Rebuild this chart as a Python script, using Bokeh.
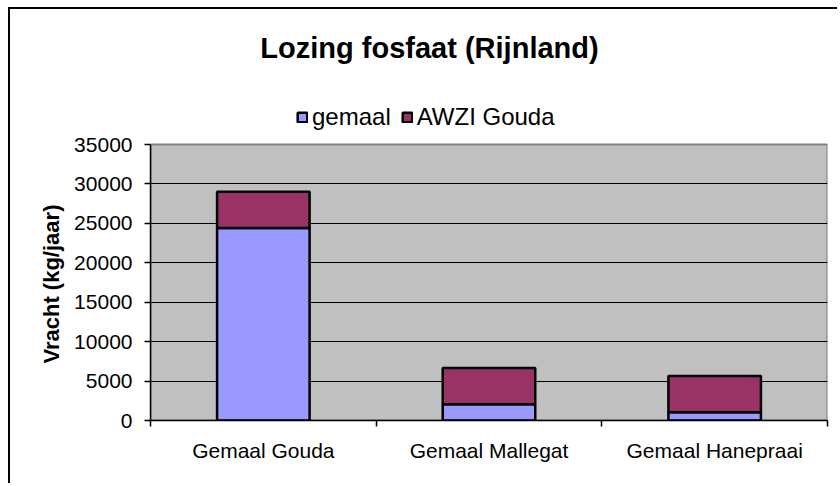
from bokeh.plotting import figure
from bokeh.models import (ColumnDataSource, FixedTicker, Legend, LegendItem, Range1d,
                          BasicTickFormatter, BoxAnnotation, Label, Title)
from bokeh.embed import file_html
from bokeh.resources import INLINE

# ---- data ----
categories = ["Gemaal Gouda", "Gemaal Mallegat", "Gemaal Hanepraai"]
gemaal = [24400, 2050, 1050]
awzi_gouda = [4600, 4600, 4600]
series_names = ["gemaal", "AWZI Gouda"]
series_colors = ["#9999FF", "#993366"]
y_ticks = [0, 5000, 10000, 15000, 20000, 25000, 30000, 35000]
title_text = "Lozing fosfaat (Rijnland)"
y_label = "Vracht (kg/jaar)"

FONT = "Liberation Sans"

# ---- layout (pixels) ----
W, H = 829, 476
B_LEFT, B_RIGHT, B_TOP, B_BOTTOM = 140, 12, 10, 65
PLOT_AREA_H = 276          # height of the grey plotting area in pixels
frame_h = H - B_TOP - B_BOTTOM
y_end = y_ticks[-1] * frame_h / PLOT_AREA_H   # extra headroom for title + legend

n = len(categories)
x_pos = [i + 0.5 for i in range(n)]
x_bounds = list(range(n + 1))

source = ColumnDataSource(dict(x=x_pos, gemaal=gemaal, awzi=awzi_gouda))

p = figure(
    width=W, height=H, title=None,
    output_backend="svg", toolbar_location=None,
    x_range=Range1d(0, n), y_range=Range1d(y_ticks[0], y_end),
    min_border_left=B_LEFT, min_border_right=B_RIGHT,
    min_border_top=B_TOP, min_border_bottom=B_BOTTOM,
)
p.styles = {
    "margin-left": "8px", "margin-top": "7px",
    "border-left": "2px solid #000000", "border-top": "2px solid #000000",
}

p.background_fill_color = "#FFFFFF"
p.border_fill_color = "#FFFFFF"
p.outline_line_color = None

# grey plot area (0 .. top tick)
area = BoxAnnotation(bottom=y_ticks[0], top=y_ticks[-1], level="image",
                     fill_color="#C0C0C0", fill_alpha=1.0,
                     line_color="#808080", line_width=2, line_alpha=1.0)
p.add_layout(area)

renderers = p.vbar_stack(
    ["gemaal", "awzi"], x="x", width=0.41, source=source,
    fill_color=series_colors, line_color="#000000", line_width=2.5,
)

# x axis
xa = p.xaxis[0]
xa.ticker = FixedTicker(ticks=x_pos, minor_ticks=x_bounds)
xa.major_label_overrides = {x: c for x, c in zip(x_pos, categories)}
xa.major_tick_out = 0
xa.major_tick_in = 0
xa.minor_tick_out = 6
xa.minor_tick_in = 0
xa.minor_tick_line_color = "#000000"
xa.minor_tick_line_width = 1.5
xa.axis_line_color = "#000000"
xa.axis_line_width = 1.5
xa.major_label_text_font = FONT
xa.major_label_text_font_size = "21px"
xa.major_label_text_color = "#000000"
xa.major_label_standoff = 12

# y axis
ya = p.yaxis[0]
ya.ticker = FixedTicker(ticks=y_ticks)
ya.bounds = (y_ticks[0], y_ticks[-1])
ya.formatter = BasicTickFormatter(use_scientific=False)
ya.major_tick_out = 6
ya.major_tick_in = 0
ya.minor_tick_out = 0
ya.minor_tick_in = 0
ya.major_tick_line_color = "#000000"
ya.major_tick_line_width = 1.5
ya.axis_line_color = "#000000"
ya.axis_line_width = 1.5
ya.major_label_text_font = FONT
ya.major_label_text_font_size = "21px"
ya.major_label_text_color = "#000000"
ya.major_label_standoff = 12

# y axis title, placed alongside the grey area
ytitle = Title(text=y_label, align="left", offset=57, standoff=15,
               text_font=FONT, text_font_size="22px", text_font_style="bold",
               text_color="#000000")
p.add_layout(ytitle, "left")

# grid
p.xgrid.visible = False
p.ygrid.ticker = FixedTicker(ticks=y_ticks[1:-1])
p.ygrid.grid_line_color = "#000000"
p.ygrid.grid_line_width = 1

# chart title (screen units, from frame bottom-left)
title = Label(x=279, y=373, x_units="screen", y_units="screen", text=title_text,
              text_font=FONT, text_font_size="29px", text_font_style="bold",
              text_color="#000000", text_align="center", text_baseline="middle")
p.add_layout(title)

legend = Legend(
    items=[LegendItem(label=name, renderers=[r]) for name, r in zip(series_names, renderers)],
    location=(146, 289), orientation="horizontal",
    label_text_font=FONT, label_text_font_size="24px", label_text_color="#000000",
    glyph_width=12, glyph_height=12, label_standoff=4, spacing=10,
    padding=0, margin=0, border_line_alpha=0, background_fill_alpha=0,
)
p.add_layout(legend, "center")

open("out.html", "w").write(file_html(p, INLINE))
